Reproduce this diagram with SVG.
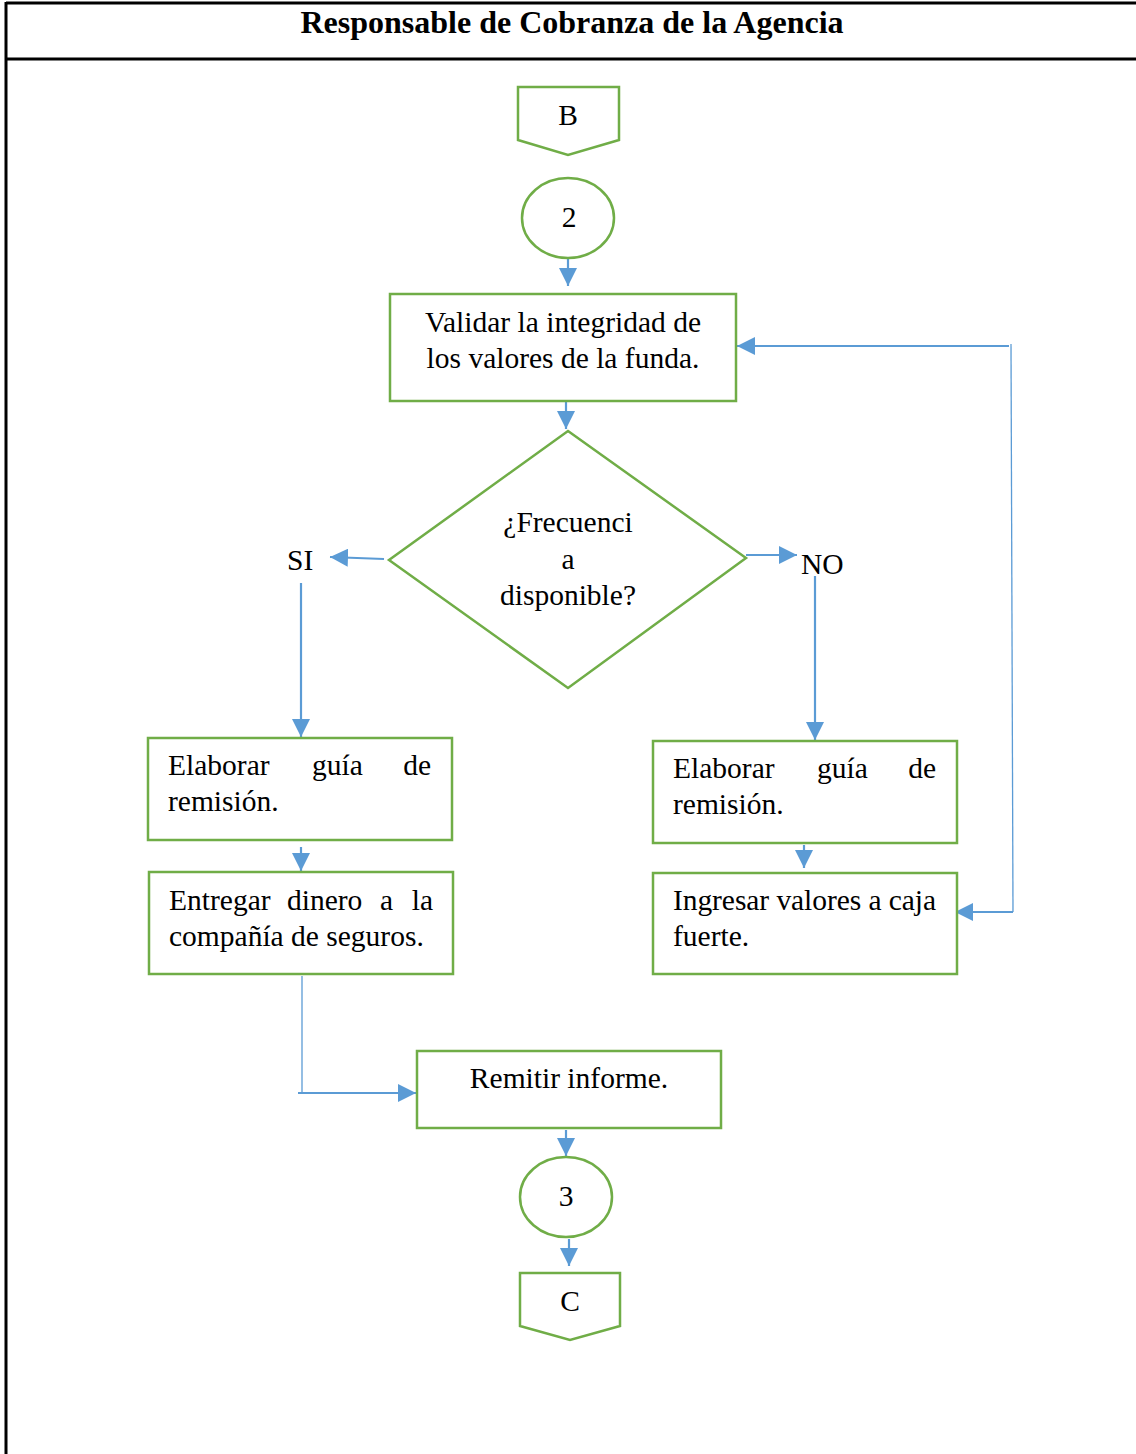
<svg xmlns="http://www.w3.org/2000/svg" width="1136" height="1454" viewBox="0 0 1136 1454">
  <style>
    .frame { stroke: #000; stroke-width: 3; fill: none; }
    .title { font-family: "Liberation Serif", "Times New Roman", serif; font-size: 32px; font-weight: bold; fill: #000; }
    .shape { fill: #fff; stroke: #70AD47; stroke-width: 2.5; }
    .txt { font-family: "Liberation Serif", "Times New Roman", serif; font-size: 29.5px; fill: #000; }
    .c { text-anchor: middle; }
    .e { text-anchor: end; }
    .flow { stroke: #5B9BD5; stroke-width: 2.2; fill: none; }
    .thin { stroke: #5B9BD5; stroke-width: 1.3; fill: none; }
  </style>
  <defs>
    <marker id="arrowL" viewBox="0 0 10 10" refX="10" refY="5" markerWidth="18" markerHeight="18" markerUnits="userSpaceOnUse" orient="auto">
      <path d="M0,0 L10,5 L0,10 Z" fill="#5B9BD5"/>
    </marker>
  </defs>

  <rect width="1136" height="1454" fill="#fff"/>

  <!-- swimlane frame -->
  <g id="lane">
    <line class="frame" x1="6" y1="3" x2="1136" y2="3"/>
    <line class="frame" x1="6" y1="59" x2="1136" y2="59"/>
    <line class="frame" x1="6" y1="2" x2="6" y2="1454"/>
    <text class="title c" x="572" y="33">Responsable de Cobranza de la Agencia</text>
  </g>

  <!-- connectors -->
  <g id="connectors">
    <line class="flow" x1="568" y1="259" x2="568" y2="286" marker-end="url(#arrowL)"/>
    <line class="flow" x1="566" y1="402" x2="566" y2="429" marker-end="url(#arrowL)"/>
    <line class="flow" x1="384" y1="559" x2="330" y2="557" marker-end="url(#arrowL)"/>
    <line class="flow" x1="301" y1="583" x2="301" y2="737" marker-end="url(#arrowL)"/>
    <line class="flow" x1="746" y1="555" x2="797" y2="555" marker-end="url(#arrowL)"/>
    <line class="flow" x1="815" y1="576" x2="815" y2="740" marker-end="url(#arrowL)"/>
    <line class="flow" x1="301" y1="847" x2="301" y2="871" marker-end="url(#arrowL)"/>
    <line class="flow" x1="804" y1="845" x2="804" y2="868" marker-end="url(#arrowL)"/>
    <polyline class="thin" points="302,976 302,1093"/>
    <line class="flow" x1="298" y1="1093" x2="416" y2="1093" marker-end="url(#arrowL)"/>
    <line class="flow" x1="566" y1="1130" x2="566" y2="1156" marker-end="url(#arrowL)"/>
    <line class="flow" x1="569" y1="1239" x2="569" y2="1266" marker-end="url(#arrowL)"/>
    <line class="flow" x1="1009" y1="346" x2="737" y2="346" marker-end="url(#arrowL)"/>
    <polyline class="thin" points="1011,344 1013,912"/>
    <line class="flow" x1="1013" y1="912" x2="955" y2="912" marker-end="url(#arrowL)"/>
  </g>

  <!-- nodes -->
  <g id="node-B">
    <polygon class="shape" points="518,87 619,87 619,140 568,155 518,140"/>
    <text class="txt c" x="568" y="125">B</text>
  </g>
  <g id="node-2">
    <ellipse class="shape" cx="568" cy="218" rx="46" ry="40"/>
    <text class="txt c" x="569" y="227">2</text>
  </g>
  <g id="node-validar">
    <rect class="shape" x="390" y="294" width="346" height="107"/>
    <text class="txt c" x="563" y="332">Validar la integridad de</text>
    <text class="txt c" x="563" y="368">los valores de la funda.</text>
  </g>
  <g id="node-decision">
    <polygon class="shape" points="568,431 746,558 568,688 389,560"/>
    <text class="txt c" x="568" y="532">¿Frecuenci</text>
    <text class="txt c" x="568" y="569">a</text>
    <text class="txt c" x="568" y="605">disponible?</text>
  </g>
  <g id="label-si">
    <text class="txt" x="287" y="570">SI</text>
  </g>
  <g id="label-no">
    <text class="txt" x="801" y="574">NO</text>
  </g>
  <g id="node-guia-si">
    <rect class="shape" x="148" y="738" width="304" height="102"/>
    <text class="txt" x="168" y="775">Elaborar</text>
    <text class="txt" x="312" y="775">guía</text>
    <text class="txt e" x="431" y="775">de</text>
    <text class="txt" x="168" y="811">remisión.</text>
  </g>
  <g id="node-entregar">
    <rect class="shape" x="149" y="872" width="304" height="102"/>
    <text class="txt" x="169" y="910">Entregar</text>
    <text class="txt" x="287" y="910">dinero</text>
    <text class="txt" x="380" y="910">a</text>
    <text class="txt e" x="433" y="910">la</text>
    <text class="txt" x="169" y="946">compañía de seguros.</text>
  </g>
  <g id="node-guia-no">
    <rect class="shape" x="653" y="741" width="304" height="102"/>
    <text class="txt" x="673" y="778">Elaborar</text>
    <text class="txt" x="817" y="778">guía</text>
    <text class="txt e" x="936" y="778">de</text>
    <text class="txt" x="673" y="814">remisión.</text>
  </g>
  <g id="node-ingresar">
    <rect class="shape" x="653" y="873" width="304" height="101"/>
    <text class="txt" x="673" y="910" textLength="263" lengthAdjust="spacing">Ingresar valores a caja</text>
    <text class="txt" x="673" y="946">fuerte.</text>
  </g>
  <g id="node-remitir">
    <rect class="shape" x="417" y="1051" width="304" height="77"/>
    <text class="txt c" x="569" y="1088">Remitir informe.</text>
  </g>
  <g id="node-3">
    <ellipse class="shape" cx="566" cy="1197" rx="46" ry="40"/>
    <text class="txt c" x="566" y="1206">3</text>
  </g>
  <g id="node-C">
    <polygon class="shape" points="520,1273 620,1273 620,1326 570,1340 520,1326"/>
    <text class="txt c" x="570" y="1311">C</text>
  </g>
</svg>
